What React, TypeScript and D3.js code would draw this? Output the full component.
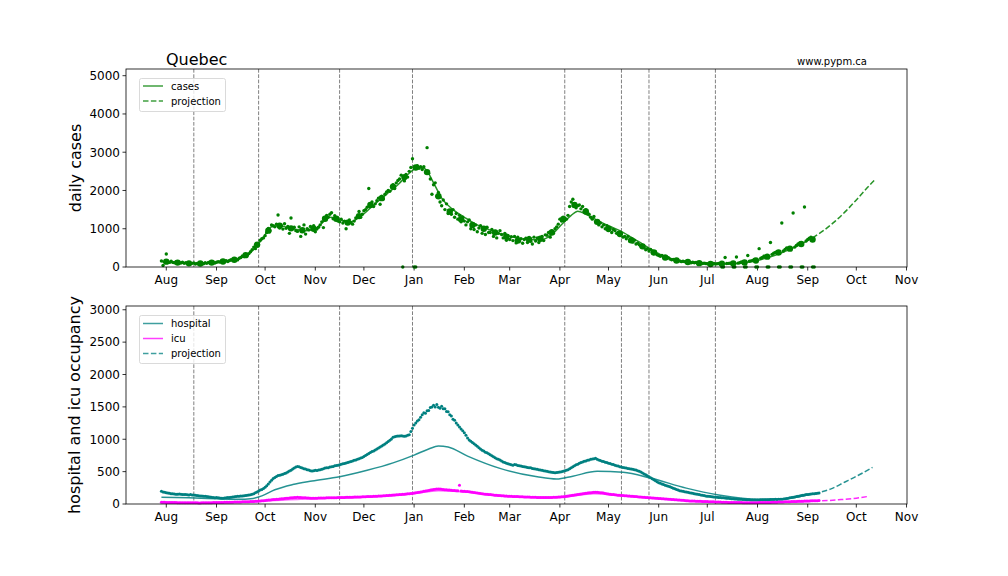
import React from "react";
import * as d3 from "d3";

// ---------- DATA (daily, starting 2020-07-29, rows of 7 days) ----------
const DATA_START = "2020-07-29";

const casesRows: number[][] = [
  [160, 40, 140, 340, 130, 120, 150],
  [120, 110, 140, 100, 115, 105, 125],
  [95, 110, 90, 100, 85, 95, 105],
  [80, 95, 75, 90, 100, 85, 110],
  [95, 120, 100, 115, 130, 105, 125],
  [140, 130, 155, 125, 150, 165, 145],
  [170, 190, 175, 215, 200, 185, 230],
  [250, 290, 270, 330, 310, 350, 400],
  [450, 520, 480, 600, 580, 700, 740],
  [760, 820, 900, 1010, 950, 1100, 1080],
  [1050, 1120, 1360, 1020, 1080, 990, 1130],
  [1010, 1060, 880, 1280, 1000, 1040, 950],
  [930, 1050, 800, 960, 1100, 860, 1000],
  [970, 1060, 1000, 1080, 920, 990, 1040],
  [1100, 1180, 1030, 1260, 1350, 1300, 1380],
  [1420, 1260, 1340, 1280, 1200, 1180, 1250],
  [1150, 1200, 1000, 1180, 1230, 1160, 1120],
  [1200, 1280, 1330, 1450, 1300, 1380, 1470],
  [1500, 1560, 2050, 1620, 1700, 1580, 1650],
  [1730, 1800, 1640, 1850, 1780, 1900, 1960],
  [2000, 1980, 2100, 2150, 2050, 2200, 2260],
  [2300, 2400, 0, 2250, 2420, 2350, 2500],
  [2600, 2830, 0, 0, 2650, 2580, 2620],
  [2550, 2620, 2480, 3120, 2450, 2300, 1900],
  [2150, 2200, 1850, 1950, 1700, 1600, 1750],
  [1500, 1650, 1400, 1450, 1380, 1500, 1300],
  [1400, 1250, 1350, 1180, 1300, 1200, 1100],
  [1180, 1230, 1000, 1120, 980, 1100, 920],
  [1020, 1080, 880, 1000, 850, 1040, 900],
  [900, 980, 800, 930, 760, 880, 950],
  [850, 760, 880, 700, 820, 720, 790],
  [690, 800, 630, 780, 670, 740, 620],
  [720, 750, 640, 770, 670, 600, 780],
  [680, 760, 640, 740, 800, 690, 840],
  [830, 900, 780, 950, 880, 1000, 1050],
  [1120, 1250, 1200, 1300, 1280, 1250, 1350],
  [1580, 1700, 1770, 1650, 1550, 1600, 1620],
  [1520, 1580, 1450, 1500, 1400, 1380, 1300],
  [1250, 1320, 1180, 1200, 1100, 1150, 1050],
  [1100, 1000, 1080, 950, 1020, 900, 980],
  [950, 880, 900, 820, 870, 780, 800],
  [740, 800, 680, 720, 650, 700, 600],
  [620, 580, 540, 560, 500, 450, 480],
  [420, 460, 380, 350, 400, 320, 300],
  [280, 300, 250, 260, 220, 240, 210],
  [190, 200, 170, 180, 150, 160, 140],
  [150, 140, 130, 145, 120, 110, 125],
  [110, 120, 100, 95, 105, 90, 100],
  [90, 85, 80, 75, 70, 95, 80],
  [85, 90, 80, 0, 0, 250, 90],
  [95, 100, 85, 0, 0, 260, 100],
  [110, 130, 120, 0, 0, 300, 150],
  [160, 170, 200, 0, 0, 480, 230],
  [250, 280, 270, 0, 0, 640, 330],
  [360, 380, 400, 0, 0, 1150, 420],
  [460, 500, 480, 0, 0, 1410, 520],
  [560, 600, 620, 0, 0, 1570, 680],
  [720, 750, 780, 0, 0],
];

const hospRows: number[][] = [
  [195, 185, 180, 172, 168, 165, 160],
  [158, 155, 152, 150, 155, 150, 148],
  [145, 148, 142, 140, 145, 138, 140],
  [135, 130, 128, 125, 122, 120, 118],
  [115, 112, 110, 105, 102, 98, 100],
  [95, 92, 90, 88, 92, 95, 100],
  [102, 105, 108, 112, 115, 118, 120],
  [122, 125, 128, 130, 135, 138, 142],
  [150, 160, 172, 185, 200, 215, 225],
  [240, 260, 280, 310, 340, 365, 395],
  [410, 425, 440, 445, 450, 460, 470],
  [480, 495, 510, 520, 540, 555, 570],
  [580, 575, 565, 555, 545, 540, 530],
  [525, 515, 510, 512, 520, 518, 525],
  [530, 535, 545, 555, 560, 558, 570],
  [575, 580, 590, 595, 600, 605, 612],
  [620, 625, 635, 640, 650, 655, 665],
  [675, 680, 690, 700, 710, 720, 735],
  [750, 765, 780, 795, 810, 820, 835],
  [850, 865, 880, 895, 910, 925, 945],
  [965, 985, 1005, 1030, 1040, 1045, 1050],
  [1050, 1055, 1050, 1048, 1052, 1060, 1070],
  [1120, 1170, 1220, 1250, 1280, 1300, 1340],
  [1380, 1410, 1400, 1440, 1445, 1490, 1500],
  [1525, 1500, 1535, 1495, 1480, 1510, 1470],
  [1470, 1430, 1425, 1380, 1360, 1310, 1295],
  [1250, 1220, 1190, 1160, 1130, 1100, 1060],
  [1020, 990, 970, 950, 930, 910, 890],
  [870, 850, 830, 820, 800, 790, 775],
  [760, 745, 730, 715, 700, 690, 680],
  [665, 650, 640, 630, 620, 615, 605],
  [600, 610, 605, 595, 590, 585, 580],
  [575, 570, 565, 560, 558, 550, 545],
  [540, 535, 530, 525, 520, 515, 510],
  [505, 500, 495, 490, 485, 482, 488],
  [492, 495, 500, 505, 515, 520, 530],
  [545, 560, 575, 590, 605, 615, 630],
  [640, 650, 660, 665, 675, 680, 690],
  [695, 700, 705, 690, 680, 670, 660],
  [655, 645, 640, 630, 625, 615, 610],
  [600, 590, 585, 575, 570, 565, 560],
  [555, 550, 545, 540, 535, 530, 525],
  [515, 505, 495, 480, 465, 450, 435],
  [420, 405, 390, 375, 360, 345, 330],
  [320, 310, 300, 290, 280, 275, 265],
  [255, 245, 235, 225, 215, 205, 200],
  [195, 190, 185, 180, 175, 170, 165],
  [160, 155, 150, 145, 140, 135, 130],
  [125, 120, 118, 115, 112, 110, 108],
  [105, 102, 100, 98, 95, 92, 90],
  [88, 85, 82, 80, 78, 76, 75],
  [73, 72, 70, 68, 66, 65, 64],
  [62, 62, 61, 60, 62, 63, 64],
  [65, 64, 66, 65, 67, 68, 70],
  [70, 72, 71, 73, 72, 74, 76],
  [80, 85, 90, 95, 100, 105, 110],
  [115, 120, 125, 130, 135, 140, 145],
  [148, 150, 155, 158, 160, 162, 165],
  [168],
];

const icuRows: number[][] = [
  [28, 27, 26, 25, 25, 24, 24],
  [23, 22, 22, 21, 21, 20, 20],
  [20, 19, 19, 18, 18, 18, 19],
  [18, 18, 17, 17, 18, 18, 19],
  [19, 20, 20, 21, 22, 22, 23],
  [24, 24, 25, 25, 26, 26, 27],
  [27, 28, 28, 29, 30, 30, 31],
  [32, 33, 33, 34, 35, 36, 37],
  [38, 40, 42, 44, 46, 48, 50],
  [52, 55, 58, 60, 63, 66, 68],
  [70, 72, 75, 77, 80, 82, 85],
  [88, 90, 92, 95, 97, 100, 102],
  [103, 102, 100, 98, 97, 95, 94],
  [92, 90, 90, 89, 90, 90, 91],
  [92, 93, 92, 94, 95, 96, 95],
  [96, 97, 98, 97, 99, 100, 100],
  [101, 102, 103, 103, 104, 105, 106],
  [107, 108, 108, 109, 110, 111, 112],
  [113, 114, 115, 116, 117, 118, 119],
  [120, 122, 123, 125, 127, 128, 130],
  [132, 134, 136, 138, 140, 142, 144],
  [146, 148, 150, 152, 155, 158, 160],
  [163, 166, 170, 174, 178, 182, 186],
  [190, 195, 200, 205, 210, 215, 220],
  [225, 228, 230, 232, 230, 228, 225],
  [222, 220, 218, 215, 212, 210, 208],
  [205, 203, 290, 200, 198, 196, 194],
  [192, 188, 184, 180, 176, 172, 168],
  [165, 162, 158, 155, 152, 150, 147],
  [145, 142, 140, 137, 135, 132, 130],
  [128, 126, 124, 122, 120, 119, 118],
  [117, 116, 115, 114, 113, 112, 111],
  [110, 109, 108, 107, 106, 105, 104],
  [103, 102, 101, 100, 100, 99, 99],
  [100, 100, 101, 102, 103, 104, 105],
  [107, 109, 111, 113, 116, 119, 122],
  [126, 130, 134, 138, 142, 146, 150],
  [154, 158, 162, 166, 170, 172, 175],
  [178, 180, 181, 180, 178, 175, 172],
  [168, 164, 160, 156, 152, 148, 145],
  [142, 140, 137, 135, 132, 130, 128],
  [126, 124, 122, 120, 118, 116, 114],
  [112, 110, 108, 106, 104, 102, 100],
  [98, 96, 94, 92, 90, 88, 86],
  [84, 82, 80, 78, 76, 74, 72],
  [70, 68, 66, 64, 62, 60, 58],
  [56, 54, 52, 50, 48, 47, 46],
  [45, 44, 43, 42, 41, 40, 39],
  [38, 37, 36, 35, 34, 33, 32],
  [31, 30, 29, 28, 27, 27, 26],
  [25, 25, 24, 24, 23, 23, 22],
  [22, 22, 21, 21, 21, 20, 20],
  [20, 20, 20, 21, 21, 22, 22],
  [23, 23, 24, 24, 25, 25, 26],
  [27, 28, 28, 29, 30, 31, 32],
  [33, 34, 35, 36, 37, 38, 39],
  [40, 41, 42, 43, 44, 45, 46],
  [47, 48, 49, 50, 51, 52, 52],
  [53],
];

// ---------- model curves (date, value) ----------
const casesModel: [string, number][] = [
  ["2020-07-29", 140], ["2020-08-08", 115], ["2020-08-18", 95], ["2020-08-28", 105],
  ["2020-09-07", 145], ["2020-09-15", 220], ["2020-09-22", 380], ["2020-09-29", 720],
  ["2020-10-05", 1050], ["2020-10-10", 1080], ["2020-10-18", 1000], ["2020-10-26", 950],
  ["2020-11-02", 1030], ["2020-11-10", 1300], ["2020-11-16", 1240], ["2020-11-22", 1170],
  ["2020-11-29", 1320], ["2020-12-07", 1620], ["2020-12-15", 1900], ["2020-12-22", 2150],
  ["2020-12-29", 2450], ["2021-01-04", 2620], ["2021-01-08", 2560], ["2021-01-13", 2200],
  ["2021-01-18", 1800], ["2021-01-25", 1500], ["2021-02-01", 1300], ["2021-02-08", 1120],
  ["2021-02-15", 1000], ["2021-02-22", 880], ["2021-03-01", 800], ["2021-03-08", 740],
  ["2021-03-15", 710], ["2021-03-21", 715], ["2021-03-27", 850], ["2021-04-03", 1150],
  ["2021-04-08", 1350], ["2021-04-12", 1460], ["2021-04-17", 1380], ["2021-04-24", 1220],
  ["2021-05-01", 1080], ["2021-05-08", 950], ["2021-05-15", 780], ["2021-05-22", 600],
  ["2021-05-29", 420], ["2021-06-05", 260], ["2021-06-12", 170], ["2021-06-19", 125],
  ["2021-06-26", 95], ["2021-07-03", 80], ["2021-07-10", 78], ["2021-07-17", 85],
  ["2021-07-24", 110], ["2021-07-31", 160], ["2021-08-07", 240], ["2021-08-14", 340],
  ["2021-08-21", 460], ["2021-08-28", 600], ["2021-09-04", 760],
];
const casesProj: [string, number][] = [
  ["2021-09-04", 760], ["2021-09-11", 960], ["2021-09-18", 1200], ["2021-09-25", 1480],
  ["2021-10-02", 1800], ["2021-10-09", 2130], ["2021-10-12", 2260],
];

const hospModel: [string, number][] = [
  ["2020-07-29", 105], ["2020-08-15", 95], ["2020-09-01", 82], ["2020-09-15", 72],
  ["2020-09-22", 80], ["2020-09-29", 125], ["2020-10-07", 220], ["2020-10-18", 300],
  ["2020-10-30", 355], ["2020-11-16", 420], ["2020-12-03", 520], ["2020-12-19", 635],
  ["2021-01-01", 755], ["2021-01-10", 850], ["2021-01-16", 895], ["2021-01-22", 880],
  ["2021-02-03", 740], ["2021-02-23", 550], ["2021-03-18", 420], ["2021-03-30", 385],
  ["2021-04-09", 430], ["2021-04-24", 505], ["2021-05-10", 490], ["2021-05-27", 400],
  ["2021-06-18", 245], ["2021-07-08", 140], ["2021-08-01", 72], ["2021-08-17", 80],
  ["2021-09-05", 160],
];
const hospProj: [string, number][] = [
  ["2021-09-05", 160], ["2021-09-15", 230], ["2021-09-24", 340], ["2021-10-02", 440],
  ["2021-10-11", 565],
];
const icuModel: [string, number][] = [
  ["2020-07-29", 22], ["2020-09-01", 20], ["2020-10-01", 45], ["2020-11-01", 85],
  ["2020-12-01", 105], ["2021-01-01", 160], ["2021-01-16", 205], ["2021-02-01", 185],
  ["2021-03-01", 115], ["2021-04-01", 100], ["2021-04-22", 160], ["2021-05-10", 125],
  ["2021-06-01", 85], ["2021-07-01", 35], ["2021-08-01", 20], ["2021-09-05", 42],
];
const icuProj: [string, number][] = [
  ["2021-09-05", 42], ["2021-09-20", 65], ["2021-10-01", 90], ["2021-10-09", 120],
];

const eventDates = [
  "2020-08-18", "2020-09-27", "2020-11-16", "2020-12-31",
  "2021-04-04", "2021-05-09", "2021-05-26", "2021-07-06",
];
const caseTicks = [0, 1000, 2000, 3000, 4000, 5000];
const hospTicks = [0, 500, 1000, 1500, 2000, 2500, 3000];

// ---------- helpers ----------
const parse = d3.timeParse("%Y-%m-%d");
const start = parse(DATA_START) as Date;
const flatten = (rows: number[][]) =>
  rows.flat().map((v, i) => ({ date: d3.timeDay.offset(start, i), v }));
const toPts = (arr: [string, number][]) =>
  arr.map(([d, v]) => ({ date: parse(d) as Date, v }));

const cases = flatten(casesRows);
const hosp = flatten(hospRows);
const icu = flatten(icuRows);
const weekly = casesRows.map((row, i) => ({
  date: d3.timeDay.offset(start, i * 7 + 3),
  v: d3.median(row) as number,
}));

const W = 1008, H = 576;
const L = 126, R = 907;
const T1 = 69, B1 = 267, T2 = 306, B2 = 504;
const FONT = "DejaVu Sans, sans-serif";

const GREEN = "#008000", TEAL = "#008080", MAG = "#ff00ff";

export default function App() {
  const x = d3.scaleTime()
    .domain([new Date(2020, 6, 7, 3), new Date(2021, 10, 1, 7)])
    .range([L, R]);
  const y1 = d3.scaleLinear().domain([0, 5175]).range([B1, T1]);
  const y2 = d3.scaleLinear().domain([0, 3058]).range([B2, T2]);
  const months = d3.timeMonth.range(new Date(2020, 7, 1), new Date(2021, 10, 2));
  const fmt = d3.timeFormat("%b");

  const line = (ys: d3.ScaleLinear<number, number>) =>
    d3.line<{ date: Date; v: number }>()
      .x((d) => x(d.date))
      .y((d) => ys(d.v))
      .curve(d3.curveMonotoneX);

  const xAxis = (bottom: number, top: number) => (
    <g>
      {months.map((m, i) => (
        <g key={i}>
          <line x1={x(m)} x2={x(m)} y1={bottom} y2={bottom + 3.5} stroke="#000" strokeWidth={0.8} />
          <text x={x(m)} y={bottom + 17} fontSize={12} textAnchor="middle" fontFamily={FONT}>
            {fmt(m)}
          </text>
        </g>
      ))}
      {eventDates.map((d, i) => (
        <line key={"e" + i} x1={x(parse(d) as Date)} x2={x(parse(d) as Date)} y1={top} y2={bottom}
          stroke="#808080" strokeWidth={1} strokeDasharray="3.7,1.6" />
      ))}
    </g>
  );
  const yAxis = (ys: d3.ScaleLinear<number, number>, ticks: number[]) => (
    <g>
      {ticks.map((t) => (
        <g key={t}>
          <line x1={L - 3.5} x2={L} y1={ys(t)} y2={ys(t)} stroke="#000" strokeWidth={0.8} />
          <text x={L - 6} y={ys(t) + 4.3} fontSize={12} textAnchor="end" fontFamily={FONT}>{t}</text>
        </g>
      ))}
    </g>
  );
  const frame = (top: number, bottom: number) => (
    <rect x={L} y={top} width={R - L} height={bottom - top} fill="none" stroke="#000" strokeWidth={0.8} />
  );

  return (
    <svg width={W} height={H} style={{ position: "absolute", left: 0, top: 0, background: "#fff" }}>
      <rect width={W} height={H} fill="#fff" />

      {/* ---------- TOP PANEL ---------- */}
      {xAxis(B1, T1)}
      {cases.map((d, i) => (
        <circle key={"c" + i} cx={x(d.date)} cy={y1(d.v)} r={1.7} fill={GREEN} />
      ))}
      {weekly.map((d, i) => (
        <circle key={"w" + i} cx={x(d.date)} cy={y1(d.v)} r={3.2} fill={GREEN} />
      ))}
      <path d={line(y1)(toPts(casesModel)) as string} fill="none" stroke={GREEN} strokeWidth={1.5} opacity={0.85} />
      <path d={line(y1)(toPts(casesProj)) as string} fill="none" stroke={GREEN} strokeWidth={1.5} strokeDasharray="5.5,2.4" opacity={0.85} />
      {yAxis(y1, caseTicks)}
      {frame(T1, B1)}
      <text x={166} y={65} fontSize={16} fontFamily={FONT}>Quebec</text>
      <text x={867} y={65} fontSize={10} textAnchor="end" fontFamily={FONT}>www.pypm.ca</text>
      <text transform={`translate(81,${(T1 + B1) / 2}) rotate(-90)`} fontSize={16} textAnchor="middle" fontFamily={FONT}>daily cases</text>
      <g>
        <rect x={139.5} y={78.5} width={86} height={33} rx={2} fill="#fff" fillOpacity={0.8} stroke="#d0d0d0" strokeWidth={0.8} />
        <line x1={143} x2={163} y1={86} y2={86} stroke={GREEN} strokeWidth={1.5} opacity={0.75} />
        <text x={171} y={89.5} fontSize={10} fontFamily={FONT}>cases</text>
        <line x1={143} x2={163} y1={101} y2={101} stroke={GREEN} strokeWidth={1.5} strokeDasharray="5.5,2.4" opacity={0.75} />
        <text x={171} y={104.5} fontSize={10} fontFamily={FONT}>projection</text>
      </g>

      {/* ---------- BOTTOM PANEL ---------- */}
      {xAxis(B2, T2)}
      <path d={line(y2)(toPts(hospModel)) as string} fill="none" stroke={TEAL} strokeWidth={1.5} opacity={0.85} />
      <path d={line(y2)(toPts(icuModel)) as string} fill="none" stroke={MAG} strokeWidth={1.5} opacity={0.6} />
      {hosp.map((d, i) => (
        <circle key={"h" + i} cx={x(d.date)} cy={y2(d.v)} r={1.5} fill={TEAL} />
      ))}
      {icu.map((d, i) => (
        <circle key={"i" + i} cx={x(d.date)} cy={y2(d.v)} r={1.5} fill={MAG} />
      ))}
      <path d={line(y2)(toPts(hospProj)) as string} fill="none" stroke={TEAL} strokeWidth={1.5} strokeDasharray="5.5,2.4" opacity={0.85} />
      <path d={line(y2)(toPts(icuProj)) as string} fill="none" stroke={MAG} strokeWidth={1.5} strokeDasharray="5.5,2.4" opacity={0.85} />
      {yAxis(y2, hospTicks)}
      {frame(T2, B2)}
      <text transform={`translate(80,${(T2 + B2) / 2}) rotate(-90)`} fontSize={16} textAnchor="middle" fontFamily={FONT}>hospital and icu occupancy</text>
      <g>
        <rect x={139.5} y={315.5} width={86} height={48} rx={2} fill="#fff" fillOpacity={0.8} stroke="#d0d0d0" strokeWidth={0.8} />
        <line x1={143} x2={163} y1={323.5} y2={323.5} stroke={TEAL} strokeWidth={1.5} opacity={0.75} />
        <text x={171} y={327} fontSize={10} fontFamily={FONT}>hospital</text>
        <line x1={143} x2={163} y1={338.5} y2={338.5} stroke={MAG} strokeWidth={1.5} opacity={0.75} />
        <text x={171} y={342} fontSize={10} fontFamily={FONT}>icu</text>
        <line x1={143} x2={163} y1={353.5} y2={353.5} stroke={TEAL} strokeWidth={1.5} strokeDasharray="5.5,2.4" opacity={0.75} />
        <text x={171} y={357} fontSize={10} fontFamily={FONT}>projection</text>
      </g>
    </svg>
  );
}
